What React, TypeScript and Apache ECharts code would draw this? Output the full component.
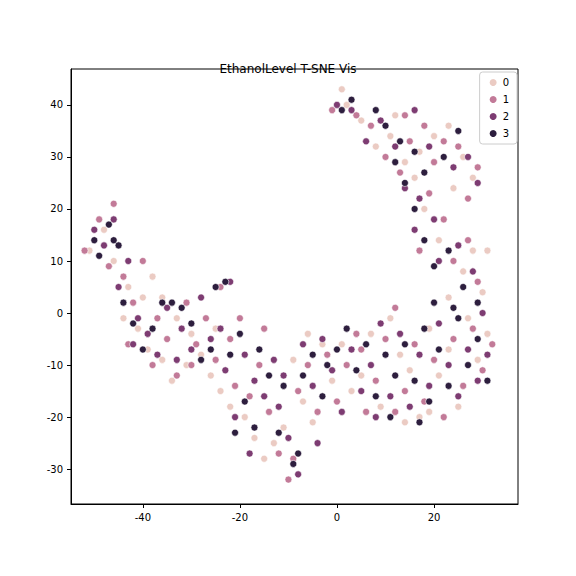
import * as echarts from "echarts";
import { useEffect, useRef } from "react";

const labels = ["0", "1", "2", "3"];
const colors = ["#ebcbc3", "#c27a98", "#7d3c72", "#2d1e3e"];
const xTicks = [-40, -20, 0, 20];
const yTicks = [-30, -20, -10, 0, 10, 20, 30, 40];

const class0 = [[-51,12],[-48,16],[-46,10],[-43,5],[-40,3],[-38,7],[-41,-3],[-39,-7],[-36,-9],[-34,-13],[-33,-1],[-30,-4],[-28,-8],[-26,-12],[-24,-15],[-22,-18],[-19,-20],[-17,-24],[-15,-28],[-13,-25],[-11,-22],[-9,-9],[-7,-17],[-5,-21],[-3,-6],[-1,-13],[1,-6],[3,-15],[5,-12],[7,-4],[9,-18],[11,-1],[13,-8],[15,-11],[17,-20],[19,-3],[21,-12],[23,-7],[25,-18],[27,-1],[29,-9],[31,-4],[30,4],[28,12],[26,8],[23,3],[21,14],[18,20],[16,26],[14,29],[11,34],[8,32],[5,37],[2,40],[1,43],[12,38],[17,31],[20,34],[23,36],[26,30],[28,26],[24,24],[31,12],[19,-19],[14,-21],[-44,-1],[-36,3],[-25,-3],[-31,-10],[-6,-4]];
const class1 = [[-52,12],[-49,18],[-46,21],[-47,9],[-44,7],[-42,2],[-40,10],[-37,-1],[-35,-5],[-33,-12],[-31,2],[-29,-6],[-27,-1],[-25,-9],[-24,5],[-22,-5],[-21,-14],[-18,-16],[-16,-10],[-14,-19],[-12,-27],[-10,-32],[-8,-15],[-6,-10],[-4,-19],[-2,-8],[0,-17],[2,-10],[4,-4],[6,-19],[8,-13],[10,-5],[12,1],[14,-15],[16,-6],[18,-17],[20,-9],[22,-20],[24,-5],[26,-14],[28,-3],[30,-11],[32,-6],[29,6],[27,14],[24,10],[22,18],[19,23],[17,12],[15,33],[13,27],[10,30],[7,36],[4,38],[-1,39],[14,38],[18,36],[22,33],[25,32],[29,28],[27,22],[20,29],[-43,-6],[-38,-10],[-30,-10],[-15,-3],[5,-7],[12,-19],[-9,-28],[-20,-1]];
const class2 = [[-50,16],[-48,13],[-46,18],[-45,5],[-43,10],[-41,-1],[-42,-6],[-39,-4],[-37,-8],[-35,1],[-32,-3],[-30,-7],[-28,3],[-26,-5],[-24,-3],[-23,-11],[-21,-20],[-19,-8],[-17,-13],[-15,-16],[-13,-9],[-11,-12],[-10,-24],[-8,-31],[-7,-6],[-5,-14],[-3,-5],[-1,-11],[1,-19],[3,-7],[5,-15],[7,-10],[9,-2],[11,-16],[13,-4],[15,-18],[17,-8],[19,-14],[21,-2],[23,-10],[25,-16],[27,-7],[29,-13],[31,-8],[30,0],[28,8],[25,13],[21,10],[20,18],[17,22],[16,16],[14,24],[12,32],[9,37],[6,33],[3,39],[0,40],[16,39],[19,32],[24,28],[27,30],[29,25],[-22,6],[-33,-9],[-18,-27],[-4,-25],[8,-20],[-12,-18]];
const class3 = [[-50,14],[-49,11],[-47,17],[-45,13],[-44,2],[-42,-2],[-40,-7],[-38,-3],[-36,2],[-34,2],[-32,1],[-30,-2],[-28,-9],[-26,-7],[-25,5],[-23,6],[-22,-8],[-20,-4],[-19,-17],[-17,-22],[-16,-7],[-14,-12],[-12,-23],[-11,-14],[-9,-29],[-8,-27],[-7,-12],[-5,-8],[-3,-16],[0,-7],[2,-3],[4,-11],[6,-6],[8,-16],[10,-8],[12,-12],[14,-6],[16,-13],[18,-3],[19,-17],[21,-7],[23,-14],[25,-1],[27,-10],[29,-5],[31,-13],[29,2],[26,5],[23,12],[20,9],[18,14],[16,20],[14,25],[12,29],[10,36],[8,39],[3,41],[1,39],[13,33],[16,31],[18,27],[22,30],[25,35],[20,2],[24,1],[-2,-10],[11,-20],[17,-21],[-46,14],[-21,-23]];
const classes = [class0, class1, class2, class3];

export default function App() {
  const chartRef = useRef<HTMLDivElement>(null);

  useEffect(() => {
    if (!chartRef.current) return;
    const chart = echarts.init(chartRef.current, null, { renderer: "svg" });
    const font = "DejaVu Sans";
    chart.setOption({
      animation: false,
      textStyle: { fontFamily: font },
      title: {
        text: "EthanolLevel T-SNE Vis",
        left: "center",
        top: 50,
        textStyle: { fontFamily: font, fontSize: 12, fontWeight: "normal", color: "#000" },
      },
      legend: {
        orient: "vertical",
        right: 51,
        top: 64,
        itemWidth: 9,
        itemHeight: 9,
        itemGap: 6,
        padding: [5, 8],
        borderColor: "#ccc",
        borderWidth: 1,
        borderRadius: 3,
        backgroundColor: "#fff",
        textStyle: { fontFamily: font, fontSize: 10, color: "#000" },
        data: labels.map((l) => ({ name: l, icon: "circle" })),
      },
      grid: { left: 63, right: 50, top: 61, bottom: 64, show: true, borderColor: "#000", borderWidth: 1 },
      xAxis: {
        type: "value",
        min: -54.8,
        max: 37.3,
        splitLine: { show: false },
        axisLine: { show: true, onZero: false, lineStyle: { color: "#000" } },
        axisTick: { show: true, length: 4, lineStyle: { color: "#000" }, customValues: xTicks },
        axisLabel: { color: "#000", fontSize: 10, customValues: xTicks },
      },
      yAxis: {
        type: "value",
        min: -36.7,
        max: 46.9,
        splitLine: { show: false },
        axisLine: { show: true, onZero: false, lineStyle: { color: "#000" } },
        axisTick: { show: true, length: 4, lineStyle: { color: "#000" }, customValues: yTicks },
        axisLabel: { color: "#000", fontSize: 10, customValues: yTicks },
      },
      series: classes.map((d, i) => ({
        name: labels[i],
        type: "scatter",
        data: d,
        symbolSize: 7,
        itemStyle: { color: colors[i], borderColor: "#fff", borderWidth: 0.6, opacity: 1 },
      })),
    });
    return () => chart.dispose();
  }, []);

  return <div ref={chartRef} style={{ width: 560, height: 560 }} />;
}
